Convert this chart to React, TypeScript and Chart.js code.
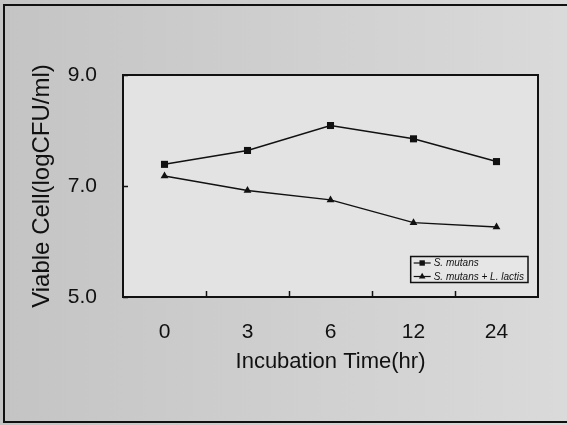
import { useEffect, useRef } from "react";
import { Chart, registerables } from "chart.js";

Chart.register(...registerables);

const categories = ["0", "3", "6", "12", "24"];
const mutansValues = [7.39, 7.64, 8.09, 7.85, 7.44];
const mixedValues = [7.18, 6.92, 6.75, 6.34, 6.26];
const yTickValues = [5, 7, 9];
const seriesLabels = ["S. mutans", "S. mutans + L. lactis"];
const seriesStyles = ["rect", "triangle"];
const xTitle = "Incubation Time(hr)";
const yTitle = "Viable Cell(logCFU/ml)";

const FONT = "'Liberation Sans', Arial, Helvetica, sans-serif";
const INK = "#111111";

const backgroundPlugin = {
  id: "scanBackground",
  beforeDraw(chart: any) {
    const { ctx, width, height, chartArea: ca } = chart;
    ctx.save();
    const g = ctx.createLinearGradient(0, 0, width, 0);
    g.addColorStop(0, "#c4c4c4");
    g.addColorStop(0.5, "#cfcfcf");
    g.addColorStop(1, "#dadada");
    ctx.fillStyle = g;
    ctx.fillRect(0, 0, width, height);
    ctx.fillStyle = "#e3e3e3";
    ctx.fillRect(ca.left, ca.top, ca.right - ca.left, ca.bottom - ca.top);
    // outer scan frame
    ctx.strokeStyle = INK;
    ctx.lineWidth = 2;
    ctx.beginPath();
    ctx.moveTo(width, 5);
    ctx.lineTo(4, 5);
    ctx.lineTo(4, 422);
    ctx.lineTo(width, 422);
    ctx.stroke();
    ctx.restore();
  },
};

function drawMarker(ctx: any, style: string, x: number, y: number, r: number) {
  ctx.beginPath();
  if (style === "rect") {
    const s = r * Math.SQRT1_2;
    ctx.rect(x - s, y - s, 2 * s, 2 * s);
  } else {
    ctx.moveTo(x, y - r);
    ctx.lineTo(x + r * 0.866, y + r * 0.5);
    ctx.lineTo(x - r * 0.866, y + r * 0.5);
    ctx.closePath();
  }
  ctx.fill();
}

const framePlugin = {
  id: "frameAndLegend",
  afterDraw(chart: any) {
    const { ctx, chartArea: ca } = chart;
    const xs = chart.scales.x;
    const ys = chart.scales.y;
    ctx.save();
    ctx.strokeStyle = INK;
    ctx.lineWidth = 2;
    ctx.strokeRect(ca.left, ca.top, ca.right - ca.left, ca.bottom - ca.top);

    // inward ticks on x between categories
    ctx.lineWidth = 1.5;
    ctx.beginPath();
    for (let i = 0; i < xs.ticks.length - 1; i++) {
      const px = (xs.getPixelForTick(i) + xs.getPixelForTick(i + 1)) / 2;
      ctx.moveTo(Math.round(px) + 0.5, ca.bottom);
      ctx.lineTo(Math.round(px) + 0.5, ca.bottom - 6);
    }
    // inward ticks on y
    ys.ticks.forEach((t: any) => {
      const py = ys.getPixelForValue(t.value);
      ctx.moveTo(ca.left, Math.round(py) + 0.5);
      ctx.lineTo(ca.left + 5, Math.round(py) + 0.5);
    });
    ctx.stroke();

    // legend
    const datasets = chart.data.datasets;
    ctx.font = `italic 10px ${FONT}`;
    let maxW = 0;
    datasets.forEach((d: any) => {
      maxW = Math.max(maxW, ctx.measureText(d.label).width);
    });
    const rowH = 13.5;
    const boxH = 26;
    const boxW = 23 + maxW + 4;
    const boxRight = ca.right - 10;
    const boxBottom = ca.bottom - 14.5;
    const boxLeft = boxRight - boxW;
    const boxTop = boxBottom - boxH;
    ctx.fillStyle = "#e6e6e6";
    ctx.fillRect(boxLeft, boxTop, boxW, boxH);
    ctx.strokeStyle = INK;
    ctx.lineWidth = 1.5;
    ctx.strokeRect(boxLeft, boxTop, boxW, boxH);
    datasets.forEach((d: any, i: number) => {
      const cy = boxTop + 6.5 + i * rowH;
      ctx.strokeStyle = INK;
      ctx.lineWidth = 1.2;
      ctx.beginPath();
      ctx.moveTo(boxLeft + 3, cy);
      ctx.lineTo(boxLeft + 20, cy);
      ctx.stroke();
      ctx.fillStyle = INK;
      drawMarker(ctx, d.pointStyle, boxLeft + 11.5, cy, 3.8);
      ctx.fillStyle = INK;
      ctx.textBaseline = "middle";
      ctx.textAlign = "left";
      ctx.fillText(d.label, boxLeft + 23, cy + 0.5);
    });
    ctx.restore();
  },
};

export default function App() {
  const canvasRef = useRef<HTMLCanvasElement | null>(null);

  useEffect(() => {
    document.body.style.margin = "0";
    const canvas = canvasRef.current;
    if (!canvas) return;
    const chart = new Chart(canvas, {
      type: "line",
      data: {
        labels: categories,
        datasets: [
          {
            label: seriesLabels[0],
            data: mutansValues,
            borderColor: INK,
            backgroundColor: INK,
            borderWidth: 1.5,
            pointStyle: seriesStyles[0] as any,
            pointRadius: 5,
            pointBackgroundColor: INK,
            pointBorderColor: INK,
            pointBorderWidth: 0,
            tension: 0,
          },
          {
            label: seriesLabels[1],
            data: mixedValues,
            borderColor: INK,
            backgroundColor: INK,
            borderWidth: 1.5,
            pointStyle: seriesStyles[1] as any,
            pointRadius: 4.5,
            pointBackgroundColor: INK,
            pointBorderColor: INK,
            pointBorderWidth: 0,
            tension: 0,
          },
        ],
      },
      options: {
        responsive: false,
        animation: false,
        devicePixelRatio: 1,
        layout: { padding: { top: 75, right: 29, left: 0, bottom: 0 } },
        plugins: {
          legend: { display: false },
          tooltip: { enabled: false },
          title: { display: false },
        },
        scales: {
          x: {
            type: "category",
            offset: true,
            grid: { display: false, drawTicks: false },
            border: { display: false },
            ticks: {
              color: INK,
              font: { family: FONT, size: 21 },
              padding: 23,
              maxRotation: 0,
            },
            title: {
              display: true,
              text: xTitle,
              color: INK,
              font: { family: FONT, size: 22 },
              padding: { top: 0, bottom: 50 },
            },
            afterFit: (s: any) => {
              s.height = 128;
            },
          },
          y: {
            min: 5,
            max: 9,
            grid: { display: false, drawTicks: false },
            border: { display: false },
            afterBuildTicks: (s: any) => {
              s.ticks = yTickValues.map((v) => ({ value: v }));
            },
            ticks: {
              color: INK,
              font: { family: FONT, size: 21 },
              padding: 26,
              callback: (v: any) => Number(v).toFixed(1),
            },
            title: {
              display: true,
              text: yTitle,
              color: INK,
              font: { family: FONT, size: 24 },
              padding: { top: 28, bottom: 0 },
            },
            afterFit: (s: any) => {
              s.width = 123;
            },
          },
        },
      },
      plugins: [backgroundPlugin, framePlugin],
    });
    return () => chart.destroy();
  }, []);

  return (
    <canvas
      ref={canvasRef}
      width={567}
      height={425}
      style={{ display: "block", width: 567, height: 425 }}
    />
  );
}
